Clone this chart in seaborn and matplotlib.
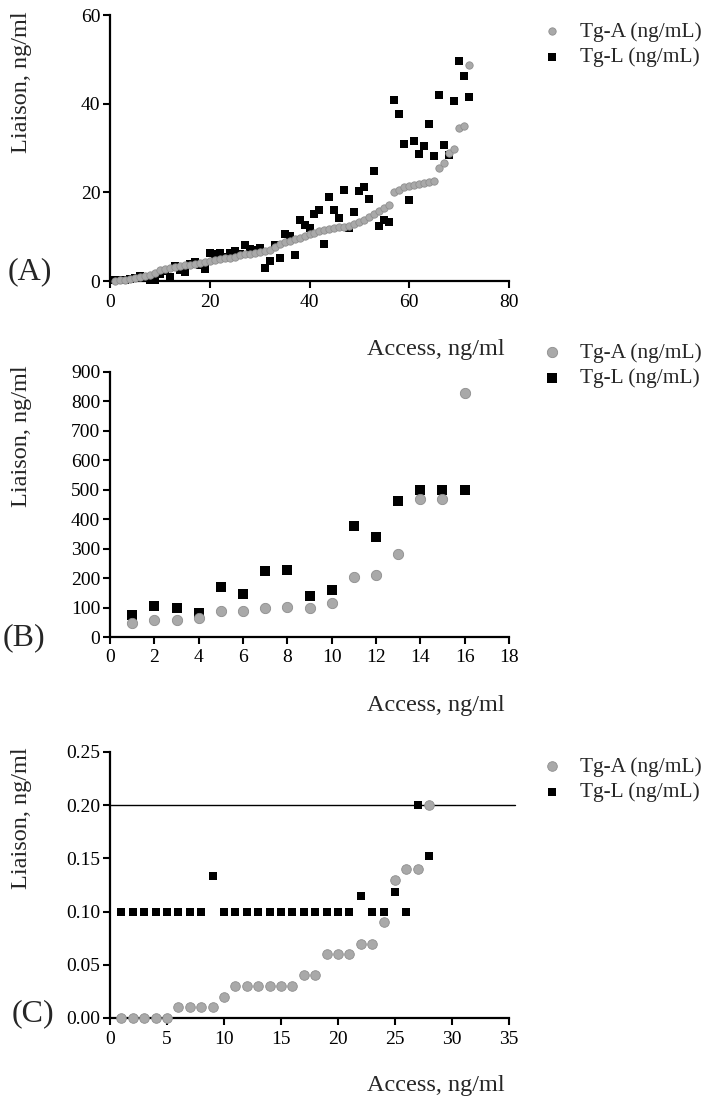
import matplotlib
matplotlib.use("Agg")
import matplotlib.pyplot as plt
from matplotlib.ticker import FormatStrFormatter, MultipleLocator
import seaborn as sns
import pandas as pd

# ---------------- data ----------------
a_x = list(range(1, 73))
a_tga = [0.1, 0.2, 0.3, 0.5, 0.7, 0.9, 1.1, 1.3, 1.8, 2.5,
         2.8, 3.0, 3.1, 3.3, 3.5, 3.6, 3.8, 4.0, 4.3, 4.6,
         4.8, 5.0, 5.1, 5.3, 5.5, 5.8, 6.0, 6.2, 6.4, 6.5,
         6.8, 7.0, 7.6, 8.3, 8.7, 9.1, 9.4, 9.8, 10.2, 10.6,
         10.9, 11.2, 11.5, 11.8, 12.0, 12.1, 12.2, 12.4, 12.8, 13.3,
         13.8, 14.4, 15.2, 15.8, 16.4, 17.2, 20.1, 20.6, 21.2, 21.5,
         21.7, 21.9, 22.1, 22.3, 22.6, 25.4, 26.6, 28.8, 29.8, 34.4,
         35.0, 48.8]
a_tgl = [0.2, 0.3, 0.2, 0.4, 0.6, 1.2, 0.8, 0.3, 0.2, 1.5,
         2.2, 0.8, 3.3, 2.4, 2.1, 3.8, 4.3, 3.6, 2.8, 6.3,
         6.2, 6.3, 5.5, 6.4, 6.8, 6.2, 8.2, 7.2, 7.0, 7.5,
         3.0, 4.4, 8.2, 5.3, 10.7, 10.2, 5.9, 13.7, 12.7, 11.9,
         15.2, 16.1, 8.3, 19.0, 16.0, 14.3, 20.5, 11.9, 15.5, 20.3,
         21.2, 18.5, 24.8, 12.5, 13.7, 13.4, 40.9, 37.6, 30.8, 18.2,
         31.5, 28.7, 30.5, 35.5, 28.2, 42.0, 30.6, 28.4, 40.7, 49.7,
         46.2, 41.6]

b_x = list(range(1, 17))
b_tga = [47, 59, 59, 65, 88, 88, 97, 102, 100, 114, 203, 210, 282, 470, 470, 827]
b_tgl = [74, 105, 100, 82, 170, 147, 224, 226, 138, 160, 377, 340, 462, 498, 498, 498]

c_x = list(range(1, 29))
c_tga = [0, 0, 0, 0, 0, 0.01, 0.01, 0.01, 0.01, 0.02,
         0.03, 0.03, 0.03, 0.03, 0.03, 0.03, 0.04, 0.04, 0.06, 0.06,
         0.06, 0.07, 0.07, 0.09, 0.13, 0.14, 0.14, 0.20]
c_tgl = [0.1, 0.1, 0.1, 0.1, 0.1, 0.1, 0.1, 0.1, 0.133, 0.1,
         0.1, 0.1, 0.1, 0.1, 0.1, 0.1, 0.1, 0.1, 0.1, 0.1,
         0.1, 0.115, 0.1, 0.1, 0.118, 0.1, 0.2, 0.152]
c_ref_line = 0.20

label_a = "Tg-A (ng/mL)"
label_l = "Tg-L (ng/mL)"
x_label = "Access, ng/ml"
y_label = "Liaison, ng/ml"
panel_names = ["(A)", "(B)", "(C)"]

# ---------------- style ----------------
sns.set_style("ticks")
plt.rcParams["font.family"] = ["Liberation Serif", "DejaVu Serif"]

W, H = 709, 1103
fig = plt.figure(figsize=(W / 100, H / 100), dpi=100)

GRAY = "#a9a9a9"
GRAY_EDGE = "#8e8e8e"

panels = [
    dict(x=a_x, tga=a_tga, tgl=a_tgl, top=15, bottom=281, xlim=(0, 80), ylim=(0, 60),
         xstep=20, ystep=20, fmt=None, s_a=28, s_l=40, leg_top=22,
         ylab_y=0.748, plab=(-0.20, 0.034)),
    dict(x=b_x, tga=b_tga, tgl=b_tgl, top=372, bottom=637, xlim=(0, 18), ylim=(0, 900),
         xstep=2, ystep=100, fmt=None, s_a=55, s_l=60, leg_top=343,
         ylab_y=0.758, plab=(-0.216, -0.004)),
    dict(x=c_x, tga=c_tga, tgl=c_tgl, top=752, bottom=1018, xlim=(0, 35), ylim=(0, 0.25),
         xstep=5, ystep=0.05, fmt="%.2f", s_a=48, s_l=34, leg_top=757,
         ylab_y=0.752, plab=(-0.193, 0.015)),
]

left_px, right_px = 110, 509
for i, p in enumerate(panels):
    ax = fig.add_axes([left_px / W, 1 - p["bottom"] / H,
                       (right_px - left_px) / W, (p["bottom"] - p["top"]) / H])
    df = pd.DataFrame({"x": p["x"], "tga": p["tga"], "tgl": p["tgl"]})
    sns.scatterplot(data=df, x="x", y="tgl", ax=ax, marker="s", color="black",
                    s=p["s_l"], linewidth=0, label=label_l, clip_on=False, zorder=3)
    sns.scatterplot(data=df, x="x", y="tga", ax=ax, marker="o", color=GRAY,
                    edgecolor=GRAY_EDGE, s=p["s_a"], linewidth=0.6, label=label_a,
                    clip_on=False, zorder=4)
    if i == 2:
        ax.axhline(c_ref_line, xmin=0, xmax=1.016, color="black", lw=1.0,
                   clip_on=False, zorder=2)

    ax.set_xlim(*p["xlim"])
    ax.set_ylim(*p["ylim"])
    ax.xaxis.set_major_locator(MultipleLocator(p["xstep"]))
    ax.yaxis.set_major_locator(MultipleLocator(p["ystep"]))
    if p["fmt"]:
        ax.yaxis.set_major_formatter(FormatStrFormatter(p["fmt"]))

    for side in ["top", "right"]:
        ax.spines[side].set_visible(False)
    for side in ["left", "bottom"]:
        ax.spines[side].set_linewidth(1.6)
        ax.spines[side].set_color("black")
    ax.tick_params(axis="both", direction="out", length=5, width=1.5,
                   labelsize=14, colors="black")
    ax.tick_params(axis="y", pad=2)
    ax.tick_params(axis="x", pad=4)

    ax.set_xlabel(x_label, fontsize=17.5, loc="right")
    ax.xaxis.set_label_coords(0.99, -68 / (p["bottom"] - p["top"]))
    ax.xaxis.label.set_va("center")
    ax.xaxis.label.set_ha("right")
    ax.set_ylabel(y_label, fontsize=17.5)
    ax.yaxis.set_label_coords(-0.2206, p["ylab_y"])
    ax.yaxis.label.set_va("center")

    ax.text(p["plab"][0], p["plab"][1], panel_names[i], transform=ax.transAxes,
            fontsize=23, ha="center", va="center")

    handles, labels = ax.get_legend_handles_labels()
    order = [labels.index(label_a), labels.index(label_l)]
    ax.legend([handles[k] for k in order], [labels[k] for k in order],
              loc="upper left", bbox_to_anchor=(541 / W, 1 - p["leg_top"] / H),
              bbox_transform=fig.transFigure, frameon=False, fontsize=15.4,
              handlelength=1.0, handletextpad=0.8, labelspacing=0.25,
              borderpad=0, borderaxespad=0)

fig.savefig("out.png", dpi=100)
